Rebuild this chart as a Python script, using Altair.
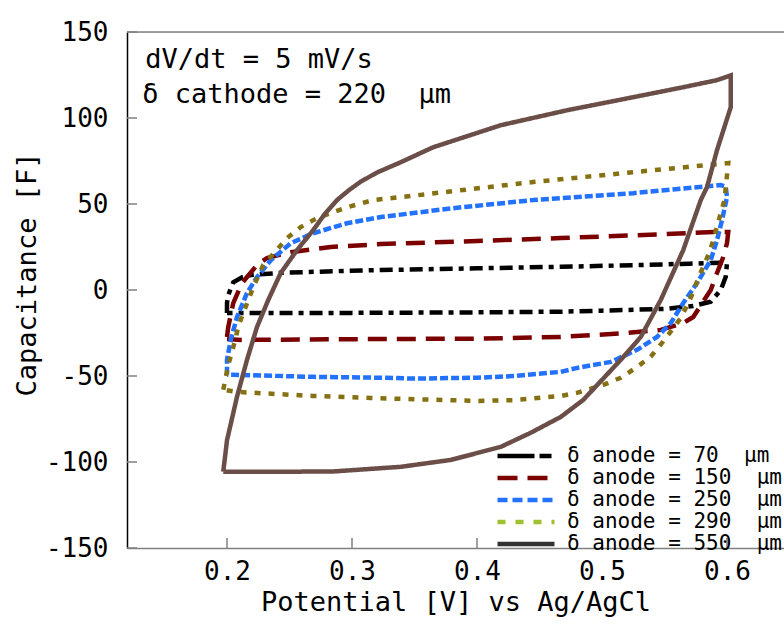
import altair as alt
import pandas as pd

# ---- data ----
series_names = ["70", "150", "250", "290", "550"]
legend_labels = [
    "δ anode = 70\u00a0\u00a0μm",
    "δ anode = 150\u00a0\u00a0μm",
    "δ anode = 250\u00a0\u00a0μm",
    "δ anode = 290\u00a0\u00a0μm",
    "δ anode = 550\u00a0\u00a0μm",
]

x70 = [0.200, 0.200, 0.201, 0.205, 0.212, 0.219, 0.243, 0.280, 0.323, 0.400, 0.467, 0.530, 0.570, 0.597, 0.600,
       0.599, 0.595, 0.587, 0.573, 0.550, 0.500, 0.467, 0.400, 0.300, 0.240, 0.208, 0.200]
y70 = [-13.4, -7.5, -2.9, 4.5, 7.4, 8.7, 10.0, 10.8, 11.6, 12.6, 13.5, 14.5, 15.3, 15.9, 15.9,
       7.7, 0.0, -6.8, -9.3, -11.0, -12.0, -12.6, -13.0, -13.3, -13.4, -13.4, -13.4]

x150 = [0.200, 0.201, 0.205, 0.212, 0.224, 0.232, 0.251, 0.283, 0.323, 0.400, 0.467, 0.533, 0.589, 0.601,
        0.600, 0.597, 0.592, 0.587, 0.573, 0.565, 0.547, 0.520, 0.467, 0.400, 0.323, 0.211, 0.200]
y150 = [-27.3, -21.5, -7.6, 4.0, 14.5, 18.6, 22.0, 25.0, 26.7, 28.5, 30.2, 32.0, 33.7, 33.7,
        27.3, 19.2, 9.9, 0.0, -15.7, -19.2, -23.2, -25.0, -27.3, -28.3, -28.5, -29.0, -28.5]

x250 = [0.200, 0.200, 0.200, 0.203, 0.208, 0.216, 0.224, 0.235, 0.251, 0.269, 0.296, 0.323, 0.380, 0.445,
        0.525, 0.595, 0.599, 0.600, 0.596, 0.592, 0.587, 0.576, 0.565, 0.555, 0.544, 0.528, 0.507, 0.480,
        0.467, 0.430, 0.400, 0.350, 0.323, 0.269, 0.205, 0.200]
y250 = [-49.3, -46.4, -40.6, -29.0, -15.7, -1.8, 7.5, 17.3, 27.2, 33.0, 38.8, 42.4, 47.5, 52.3,
        56.3, 61.0, 60.0, 54.0, 40.6, 29.0, 17.4, 4.0, -7.6, -19.2, -27.3, -34.8, -41.8, -45.3,
        -47.6, -50.0, -51.0, -51.5, -51.0, -50.5, -49.3, -49.3]

x290 = [0.197, 0.201, 0.207, 0.209, 0.217, 0.221, 0.229, 0.239, 0.248, 0.259, 0.272, 0.296, 0.317, 0.339,
        0.445, 0.525, 0.601, 0.600, 0.598, 0.595, 0.589, 0.586, 0.581, 0.577, 0.573, 0.569, 0.563, 0.556,
        0.548, 0.539, 0.527, 0.515, 0.501, 0.480, 0.467, 0.430, 0.400, 0.315, 0.269, 0.207, 0.197]
y290 = [-58.0, -43.6, -28.0, -21.0, -6.0, 1.7, 14.5, 22.6, 30.2, 36.6, 41.8, 48.1, 52.3, 54.0,
        62.8, 68.5, 73.8, 66.7, 52.3, 44.7, 29.0, 22.0, 13.4, 7.0, -1.2, -7.6, -16.3, -23.2,
        -30.8, -38.8, -45.3, -51.0, -55.2, -59.8, -61.6, -64.0, -64.5, -62.8, -61.6, -59.2, -58.0]

x550 = [0.197, 0.200, 0.208, 0.216, 0.224, 0.233, 0.243, 0.256, 0.269, 0.278, 0.288, 0.298, 0.307, 0.320,
        0.339, 0.365, 0.419, 0.472, 0.525, 0.565, 0.592, 0.603, 0.603, 0.592, 0.584, 0.579, 0.565, 0.547,
        0.531, 0.515, 0.485, 0.467, 0.443, 0.419, 0.379, 0.339, 0.285, 0.232, 0.197]
y550 = [-105.7, -87.4, -62.1, -40.6, -21.5, -5.8, 9.9, 23.2, 34.8, 44.0, 52.3, 58.3, 63.0, 68.3,
        74.3, 83.0, 95.8, 104.5, 112.1, 117.9, 122.0, 124.8, 106.3, 81.3, 59.8, 52.3, 23.2, -5.8,
        -27.3, -40.6, -63.9, -73.8, -83.0, -91.2, -98.8, -102.8, -105.5, -105.7, -105.7]

xs = [x70, x150, x250, x290, x550]
ys = [y70, y150, y250, y290, y550]

line_colors = ["#000000", "#7b0000", "#2271ff", "#857012", "#6b4e47"]
legend_colors = ["#000000", "#7b0000", "#2271ff", "#9ec132", "#333333"]
dashes = [[13, 6, 5, 6], [19, 10], [8, 3], [6, 8], [1, 0]]
legend_dashes = [[37, 5, 12, 5], [20, 10], [10, 5], [8, 10], [1, 0]]

x_ticks = [0.2, 0.3, 0.4, 0.5, 0.6]
y_ticks = [-150, -100, -50, 0, 50, 100, 150]

notes = ["dV/dt = 5 mV/s", "δ cathode = 220\u00a0\u00a0μm"]
notes_x = [0.1346, 0.1322]
notes_y = [128.9, 108.6]

rows = []
for name, lab, xv, yv in zip(series_names, legend_labels, xs, ys):
    for i, (a, b) in enumerate(zip(xv, yv)):
        rows.append({"series": lab, "V": a, "C": b, "i": i})
df = pd.DataFrame(rows)
notes_df = pd.DataFrame({"t": notes, "x": notes_x, "y": notes_y})

FONT = "DejaVu Sans Mono"
H = 516

xscale = alt.Scale(domain=[0.12, 0.6456], nice=False, zero=False)
yscale = alt.Scale(domain=[-150, 150], nice=False, zero=False)

x_enc = alt.X("V:Q", scale=xscale,
              axis=alt.Axis(values=x_ticks, title="Potential [V] vs Ag/AgCl",
                            labelExpr="format(datum.value, '.1f')",
                            grid=False, domainColor="#808080", domainWidth=1.5,
                            ticks=False, tickSize=0,
                            labelPadding=31, labelBaseline="alphabetic",
                            labelFont=FONT, labelFontSize=26, labelColor="#000",
                            titleFont=FONT, titleFontSize=27, titleFontWeight="normal",
                            titleColor="#000", titleBaseline="alphabetic", titleY=62))
y_enc = alt.Y("C:Q", scale=yscale,
              axis=alt.Axis(values=y_ticks, title="Capacitance [F]",
                            labelExpr="replace(format(datum.value, 'd'), '\u2212', '-')",
                            grid=False, domainColor="#000000", domainWidth=1.5,
                            ticks=False, tickSize=0,
                            labelPadding=19,
                            labelFont=FONT, labelFontSize=26, labelColor="#000",
                            titleFont=FONT, titleFontSize=27, titleFontWeight="normal",
                            titleColor="#000", titleBaseline="alphabetic", titleX=-92, titleY=242))

lines = alt.Chart(df).mark_line(strokeWidth=4.5, strokeJoin="miter", strokeCap="butt").encode(
    x=x_enc,
    y=y_enc,
    color=alt.Color("series:N", sort=legend_labels,
                    scale=alt.Scale(domain=legend_labels, range=line_colors), legend=None),
    strokeDash=alt.StrokeDash("series:N", sort=legend_labels,
                              scale=alt.Scale(domain=legend_labels, range=dashes), legend=None),
    order=alt.Order("i:Q"),
    detail="series:N",
)

leg = alt.Legend(title=None, orient="none", legendX=387, legendY=412,
                 symbolType="M-3,0H3", symbolSize=361, symbolStrokeWidth=4.5,
                 labelFont=FONT, labelFontSize=21, labelColor="#000",
                 labelLimit=500, labelOffset=29, rowPadding=-8, padding=0)

# legend-only layer: no rows survive the filter, the legend comes from the scale domains
legend_layer = alt.Chart(df).transform_filter("false").mark_line(strokeWidth=4.5, strokeCap="butt").encode(
    x=alt.X("V:Q", scale=xscale),
    y=alt.Y("C:Q", scale=yscale),
    color=alt.Color("series:N", sort=legend_labels,
                    scale=alt.Scale(domain=legend_labels, range=legend_colors), legend=leg),
    strokeDash=alt.StrokeDash("series:N", sort=legend_labels,
                              scale=alt.Scale(domain=legend_labels, range=legend_dashes), legend=leg),
)

top_rule = alt.Chart(pd.DataFrame({"y": [150]})).mark_rule(color="#808080", strokeWidth=1.5).encode(
    y=alt.Y("y:Q", scale=yscale)
)

xtick_marks = alt.Chart(pd.DataFrame({"v": x_ticks})).mark_rule(color="#808080", strokeWidth=1.5).encode(
    x=alt.X("v:Q", scale=xscale), y=alt.value(H), y2=alt.value(H - 10)
)
ytick_marks = alt.Chart(pd.DataFrame({"v": y_ticks})).mark_rule(color="#808080", strokeWidth=1.5).encode(
    y=alt.Y("v:Q", scale=yscale), x=alt.value(0), x2=alt.value(10)
)

text = alt.Chart(notes_df).mark_text(font=FONT, fontSize=27, align="left", baseline="alphabetic",
                                     color="#000").encode(
    x=alt.X("x:Q", scale=xscale), y=alt.Y("y:Q", scale=yscale), text="t:N"
)

chart = alt.layer(lines, legend_layer, top_rule, xtick_marks, ytick_marks, text).resolve_scale(
    color="independent", strokeDash="independent"
).properties(
    width=657, height=H,
    padding={"left": 127, "top": 32, "right": 0, "bottom": 76},
    autosize="none",
).configure_view(stroke=None).configure(background="white")

chart.save("out.html", embed_options={"renderer": "svg", "actions": False})
